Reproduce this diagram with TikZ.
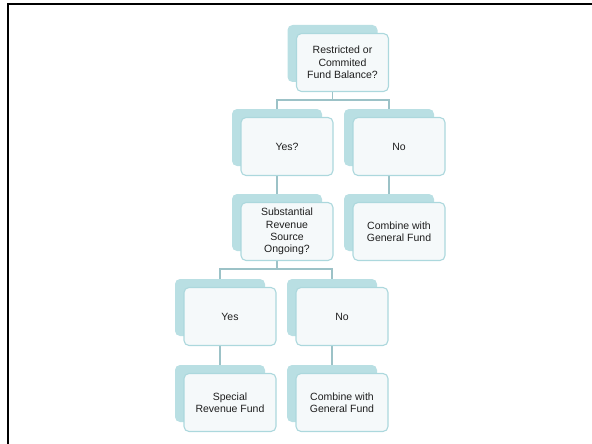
\documentclass[tikz,border=0pt]{standalone}
\usepackage{fontspec}
\setmainfont{Liberation Sans}
\usetikzlibrary{backgrounds,calc}
\definecolor{backteal}{HTML}{B9DFE3}
\definecolor{frontline}{HTML}{ACD8DD}
\definecolor{frontfill}{HTML}{F5F9FA}
\definecolor{linkcol}{HTML}{9CC2C7}
\definecolor{txtcol}{HTML}{1E1E1E}
\tikzset{
  backbox/.style={draw=none, fill=backteal, rounded corners=5pt, minimum width=90pt, minimum height=57pt, inner sep=0pt},
  frontbox/.style={draw=frontline, line width=1.1pt, fill=frontfill, rounded corners=5pt, minimum width=92pt, minimum height=58pt, inner sep=2pt, align=center, text=txtcol, font=\fontsize{10.5}{12.3}\selectfont},
  link/.style={draw=linkcol, line width=1.6pt},
  frameline/.style={draw=black, line width=2pt}
}
\newcommand\treebox[4]{%
  \node[backbox] (#1b) at (#2,#3) {};
  \node[frontbox] (#1) at ($(#1b.center)+(10,9)$) {#4};
}
\begin{document}
\begin{tikzpicture}[x=1pt,y=-1pt]
\useasboundingbox (0,0) rectangle (592,444);
\coordinate (fa) at (7.5,444);
\coordinate (fb) at (7.5,4.5);
\coordinate (fc) at (592,4.5);
\draw[frameline] (fa) -- (fb) -- (fc);
\treebox{r1}{332.5}{53.5}{Restricted or\\Commited\\Fund Balance?}
\treebox{yq}{277}{137.5}{Yes?}
\treebox{nq}{389}{137.5}{No}
\treebox{ss}{277}{222.5}{Substantial\\Revenue\\Source\\Ongoing?}
\treebox{cg}{389}{222.5}{Combine with\\General Fund}
\treebox{ys}{220}{307.5}{Yes}
\treebox{no}{332}{307.5}{No}
\treebox{sr}{220}{393.5}{Special\\Revenue Fund}
\treebox{cg2}{332}{393.5}{Combine with\\General Fund}
\begin{scope}[on background layer]
\draw[link] (r1b.south) -- ++(0,18) -| (yqb.north);
\draw[link] (r1b.south) -- ++(0,18) -| (nqb.north);
\draw[link] (yqb.south) -- (ssb.north);
\draw[link] (nqb.south) -- (cgb.north);
\draw[link] (ssb.south) -- ++(0,18) -| (ysb.north);
\draw[link] (ssb.south) -- ++(0,18) -| (nob.north);
\draw[link] (ysb.south) -- (srb.north);
\draw[link] (nob.south) -- (cg2b.north);
\end{scope}
\end{tikzpicture}
\end{document}
